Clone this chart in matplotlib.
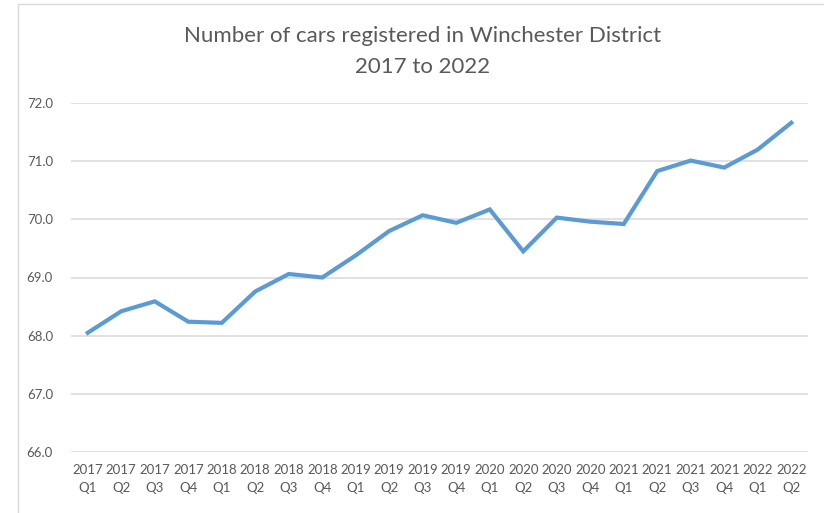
import matplotlib
matplotlib.use("Agg")
import matplotlib.pyplot as plt
from matplotlib.patches import Rectangle

# quarters and values (thousands of cars)
years = ["2017", "2017", "2017", "2017", "2018", "2018", "2018", "2018",
         "2019", "2019", "2019", "2019", "2020", "2020", "2020", "2020",
         "2021", "2021", "2021", "2021", "2022", "2022"]
quarters = ["Q1", "Q2", "Q3", "Q4", "Q1", "Q2", "Q3", "Q4",
            "Q1", "Q2", "Q3", "Q4", "Q1", "Q2", "Q3", "Q4",
            "Q1", "Q2", "Q3", "Q4", "Q1", "Q2"]
cars = [68.05, 68.42, 68.59, 68.24, 68.22, 68.76, 69.06, 69.00,
        69.38, 69.80, 70.07, 69.94, 70.17, 69.45, 70.03, 69.96,
        69.92, 70.83, 71.01, 70.89, 71.20, 71.66]
y_ticks = [66.0, 67.0, 68.0, 69.0, 70.0, 71.0, 72.0]

plt.rcParams['font.family'] = ['Lato', 'DejaVu Sans']
txt_col = "#595959"
grid_col = "#d9d9d9"

fig = plt.figure(figsize=(8.24, 5.13), dpi=100)
ax = fig.add_axes([71 / 824, 1 - 452 / 513, (808 - 71) / 824, (452 - 103) / 513])

x = list(range(len(cars)))
ax.plot(x, cars, color="#5B9BD5", linewidth=3, solid_joinstyle="miter")

ax.set_xlim(-0.5, len(cars) - 0.5)
ax.set_ylim(y_ticks[0], y_ticks[-1])
ax.set_yticks(y_ticks)
ax.set_yticklabels([f"{v:.1f}" for v in y_ticks])
ax.set_xticks(x)
ax.set_xticklabels([f"{yy}\n{q}" for yy, q in zip(years, quarters)], linespacing=1.6)

ax.grid(axis="y", color=grid_col, linewidth=1.1)
ax.set_axisbelow(True)
for s in ax.spines.values():
    s.set_visible(False)
ax.tick_params(axis="both", length=0, colors=txt_col, labelsize=9.5)
ax.tick_params(axis="y", pad=13)
ax.tick_params(axis="x", pad=9)

fig.text(423 / 824, 1 - 36 / 513, "Number of cars registered in Winchester District",
         ha="center", va="center", fontsize=16, color=txt_col)
fig.text(423 / 824, 1 - 67 / 513, "2017 to 2022",
         ha="center", va="center", fontsize=16, color=txt_col)

# outer chart border, partly cropped in the original screenshot
fig.patches.append(Rectangle((18 / 824, -0.1), 1.2, 1 - 4 / 513 + 0.1,
                             transform=fig.transFigure, fill=False,
                             edgecolor=grid_col, linewidth=1))

fig.savefig("out.png", dpi=100)
